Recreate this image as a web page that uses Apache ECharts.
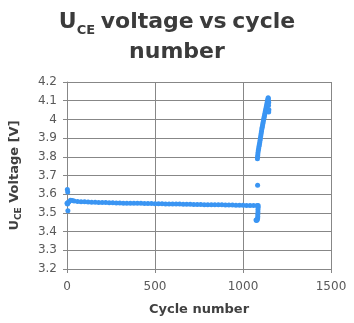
<!DOCTYPE html>
<html>
<head>
<meta charset="utf-8">
<script src="https://cdn.jsdelivr.net/npm/echarts@6/dist/echarts.min.js"></script>
<style>
  html, body { margin: 0; padding: 0; background: #fff; }
  #chart { width: 354px; height: 323px; }
</style>
</head>
<body>
<div id="chart"></div>
<script>
// Measured U_CE voltage per cycle, as [cycle, volts]
const startPoints = [
  [2, 3.625], [4, 3.612], [5, 3.512], [3, 3.548], [6, 3.556]
];
const plateauPoints = [
  [0, 3.552], [10, 3.558], [20, 3.567], [30, 3.566], [40, 3.563], [60, 3.561],
  [80, 3.560], [100, 3.559], [120, 3.558], [140, 3.557], [160, 3.557], [180, 3.556],
  [200, 3.555], [220, 3.555], [240, 3.554], [260, 3.554], [280, 3.553], [300, 3.553],
  [320, 3.552], [340, 3.552], [360, 3.552], [380, 3.551], [400, 3.551], [420, 3.551],
  [440, 3.550], [460, 3.550], [480, 3.550], [500, 3.549], [520, 3.549], [540, 3.549],
  [560, 3.548], [580, 3.548], [600, 3.548], [620, 3.547], [640, 3.547], [660, 3.546],
  [680, 3.546], [700, 3.546], [720, 3.545], [740, 3.545], [760, 3.545], [780, 3.544],
  [800, 3.544], [820, 3.544], [840, 3.543], [860, 3.543], [880, 3.543], [900, 3.542],
  [920, 3.542], [940, 3.542], [960, 3.541], [980, 3.541], [1000, 3.541], [1020, 3.540],
  [1040, 3.540], [1060, 3.540], [1080, 3.540], [1086, 3.539]
];
const dropPoints = [
  [1086, 3.530], [1085, 3.518], [1085, 3.505], [1084, 3.492], [1084, 3.480],
  [1083, 3.470], [1081, 3.463], [1077, 3.460], [1074, 3.462], [1083, 3.648]
];
const risePoints = [
  [1082, 3.790], [1083, 3.800], [1084, 3.810], [1085, 3.822], [1087, 3.834],
  [1089, 3.845], [1091, 3.856], [1093, 3.866], [1095, 3.877], [1097, 3.888],
  [1099, 3.900], [1101, 3.912], [1103, 3.924], [1105, 3.936], [1107, 3.948],
  [1109, 3.958], [1111, 3.968], [1113, 3.978], [1115, 3.988], [1117, 3.998],
  [1119, 4.008], [1121, 4.016], [1123, 4.025], [1125, 4.034], [1127, 4.043],
  [1129, 4.052], [1131, 4.061], [1133, 4.070], [1135, 4.080], [1137, 4.090],
  [1139, 4.099], [1141, 4.108], [1143, 4.116], [1144, 4.110], [1144, 4.098],
  [1146, 4.090], [1145, 4.075], [1147, 4.052], [1146, 4.040]
];

const xTicks = { min: 0, max: 1500, step: 500 };
const yTicks = { min: 3.2, max: 4.2, step: 0.1 };

const allPoints = startPoints.concat(plateauPoints, dropPoints, risePoints);

const font = 'DejaVu Sans';
const gridColor = '#878787';
const labelColor = '#595959';
const nameColor = '#404040';
const titleColor = '#3b3b3b';

const chart = echarts.init(document.getElementById('chart'), null, { renderer: 'canvas' });
chart.setOption({
  animation: false,
  backgroundColor: '#ffffff',
  title: {
    left: 'center',
    top: 2,
    text: '{b|U}{s|CE}{sp| }{b|voltage}{sp| }{b|vs}{sp| }{b|cycle}\n{b|number}',
    textStyle: {
      rich: {
        b: { fontFamily: font, fontWeight: 'bold', fontSize: 22, color: titleColor, lineHeight: 30 },
        sp: { fontFamily: font, fontWeight: 'bold', fontSize: 16, color: titleColor, lineHeight: 30 },
        s: { fontFamily: font, fontWeight: 'bold', fontSize: 13, color: titleColor, lineHeight: 30, verticalAlign: 'bottom', padding: [6, 0, 0, 0] }
      }
    }
  },
  grid: { left: 67, right: 23, top: 82, bottom: 54, containLabel: false },
  xAxis: {
    type: 'value',
    min: xTicks.min, max: xTicks.max, interval: xTicks.step,
    name: 'Cycle number',
    nameLocation: 'middle',
    nameGap: 34,
    nameTextStyle: { fontFamily: font, fontWeight: 'bold', fontSize: 13, color: nameColor },
    axisLine: { show: true, lineStyle: { color: gridColor, width: 1 } },
    axisTick: { show: true, length: 4, lineStyle: { color: gridColor } },
    axisLabel: {
      fontFamily: font, fontSize: 12, color: labelColor, margin: 12,
      formatter: v => String(v)
    },
    splitLine: { show: true, lineStyle: { color: gridColor, width: 1 } }
  },
  yAxis: {
    type: 'value',
    min: yTicks.min, max: yTicks.max, interval: yTicks.step,
    name: '{b|U}{s|CE}{b| Voltage [V]}',
    nameLocation: 'middle',
    nameRotate: 90,
    nameGap: 44,
    nameTextStyle: {
      rich: {
        b: { fontFamily: font, fontWeight: 'bold', fontSize: 13, color: nameColor, lineHeight: 16 },
        s: { fontFamily: font, fontWeight: 'bold', fontSize: 9, color: nameColor, lineHeight: 16, verticalAlign: 'bottom', padding: [4, 0, 0, 0] }
      }
    },
    axisLine: { show: true, lineStyle: { color: gridColor, width: 1 } },
    axisTick: { show: true, length: 4, lineStyle: { color: gridColor } },
    axisLabel: {
      fontFamily: font, fontSize: 12, color: labelColor, margin: 10,
      formatter: v => String(parseFloat(v.toFixed(1)))
    },
    splitLine: { show: true, lineStyle: { color: gridColor, width: 1 } }
  },
  series: [{
    type: 'scatter',
    data: allPoints,
    symbol: 'circle',
    symbolSize: 5,
    itemStyle: { color: '#3a95f3', opacity: 1 }
  }]
});
</script>
</body>
</html>
